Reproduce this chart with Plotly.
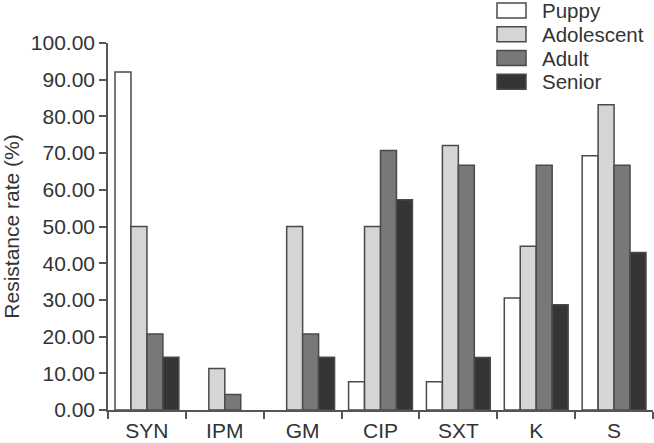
import plotly.graph_objects as go

categories = ["SYN", "IPM", "GM", "CIP", "SXT", "K", "S"]
series_names = ["Puppy", "Adolescent", "Adult", "Senior"]
puppy = [92.1, 0, 0, 7.7, 7.7, 30.5, 69.3]
adolescent = [50.0, 11.3, 50.0, 50.0, 72.1, 44.6, 83.2]
adult = [20.7, 4.2, 20.7, 70.7, 66.7, 66.7, 66.7]
senior = [14.4, 0, 14.4, 57.3, 14.3, 28.7, 42.9]
tick_vals = [0, 10, 20, 30, 40, 50, 60, 70, 80, 90, 100]
tick_text = ["%.2f" % v for v in tick_vals]

values = [puppy, adolescent, adult, senior]
colors = ["#ffffff", "#d4d5d7", "#77787a", "#353535"]
OUTLINE = "#4a4a4a"
TXT = "#333333"

W, H = 654, 443
ML, MR, MT, MB = 108, 1, 43, 33
PW, PH = W - ML - MR, H - MT - MB

FONT = "Liberation Sans, Arial, sans-serif"
fig = go.Figure()
for name, vals, col in zip(series_names, values, colors):
    fig.add_trace(go.Bar(
        x=categories, y=vals, name=name, showlegend=False,
        marker=dict(color=col, line=dict(color=OUTLINE,
                                         width=[1.5 if v > 0 else 0 for v in vals])),
    ))

# manual legend (boxes + labels) in paper coordinates
def px2x(p):
    return (p - ML) / PW

def py2y(p):
    return (H - MB - p) / PH

row_centers = [10.5, 34.3, 58, 81.8]
for name, col, cy in zip(series_names, colors, row_centers):
    fig.add_shape(type="rect", xref="paper", yref="paper",
                  x0=px2x(497), x1=px2x(526), y0=py2y(cy + 7.5), y1=py2y(cy - 7.5),
                  fillcolor=col, line=dict(color=OUTLINE, width=1.5))
    fig.add_annotation(xref="paper", yref="paper", x=px2x(541), y=py2y(cy),
                       xanchor="left", yanchor="middle", text=name, showarrow=False,
                       borderpad=0,
                       font=dict(size=20.5, color=TXT, family=FONT))

fig.update_layout(
    width=W, height=H,
    margin=dict(l=ML, r=MR, t=MT, b=MB),
    plot_bgcolor="white", paper_bgcolor="white",
    barmode="group", bargap=0.18, bargroupgap=0,
    font=dict(family=FONT, size=21, color=TXT),
    showlegend=False,
    xaxis=dict(
        automargin=False,
        showline=True, linecolor="#555555", linewidth=1.5,
        ticks="outside", tickson="boundaries", ticklen=7, tickcolor="#555555", tickwidth=1.5,
        tickfont=dict(size=21, color=TXT), showgrid=False, ticklabelstandoff=1,
    ),
    yaxis=dict(
        automargin=False,
        range=[0, 100], tickvals=tick_vals, ticktext=tick_text,
        showline=True, linecolor="#555555", linewidth=1.5,
        ticks="outside", ticklen=7, tickcolor="#555555", tickwidth=1.5,
        tickfont=dict(size=21, color=TXT), showgrid=False, zeroline=False,
        title=dict(text="Resistance rate (%)", font=dict(size=21, color=TXT), standoff=6),
    ),
)

fig.write_html("out.html", config={"displayModeBar": False},
               post_script="document.body.style.margin='0';document.body.style.overflow='hidden';")
